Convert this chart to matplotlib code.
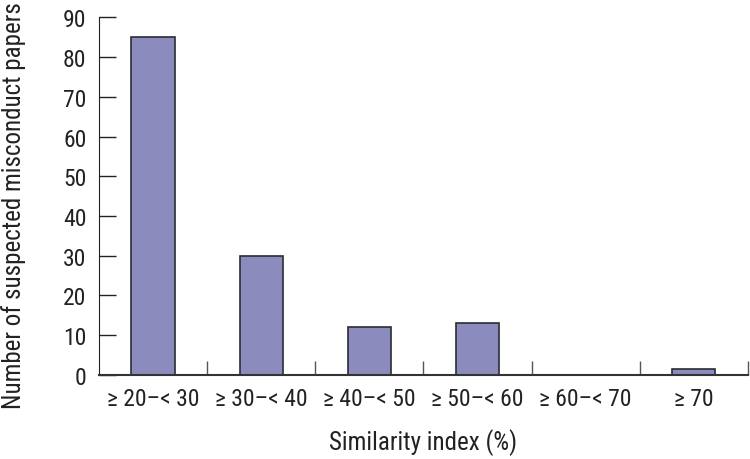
import numpy as np
import matplotlib.pyplot as plt

plt.rcParams['font.family'] = ['Roboto Condensed', 'Archivo Narrow', 'DejaVu Sans']

# Dados
categorias = ['\u2265 20\u2013< 30', '\u2265 30\u2013< 40', '\u2265 40\u2013< 50',
              '\u2265 50\u2013< 60', '\u2265 60\u2013< 70', '\u2265 70']
artigos = [85, 30, 12, 13, 0, 1.5]

cor = '#8c8bbe'
linha = '#2b2b33'

fig = plt.figure(figsize=(7.5, 4.6), dpi=100)
ax = fig.add_axes([0.132, 0.183, 0.865, 0.777])

x = np.arange(len(categorias))
ax.bar(x, artigos, width=0.4, color=cor, edgecolor=linha, linewidth=1.2)

ax.set_xlim(-0.5, len(categorias) - 0.5)
ax.set_ylim(0, 90)
ax.set_yticks(np.arange(0, 91, 10))
ax.set_xticks(x)
ax.set_xticklabels(categorias)
ax.set_xticks(np.arange(0.5, len(categorias), 1), minor=True)

ax.tick_params(axis='x', which='major', length=0, pad=9, labelsize=17, colors='#222222')
ax.tick_params(axis='x', which='minor', direction='in', length=10, width=1, color='#555555')
ax.tick_params(axis='y', direction='in', length=12, width=1, pad=9, labelsize=17, colors='#222222')

for lado in ['top', 'right']:
    ax.spines[lado].set_visible(False)
ax.spines['left'].set_color('#222222')
ax.spines['bottom'].set_color('#333333')
ax.spines['bottom'].set_linewidth(1.5)

ax.set_xlabel('Similarity index (%)', fontsize=18, labelpad=13, color='#222222')
ax.set_ylabel('Number of suspected misconduct papers', fontsize=18, color='#222222')
ax.yaxis.set_label_coords(-0.112, 0.475)

fig.savefig('out.png', dpi=100)
